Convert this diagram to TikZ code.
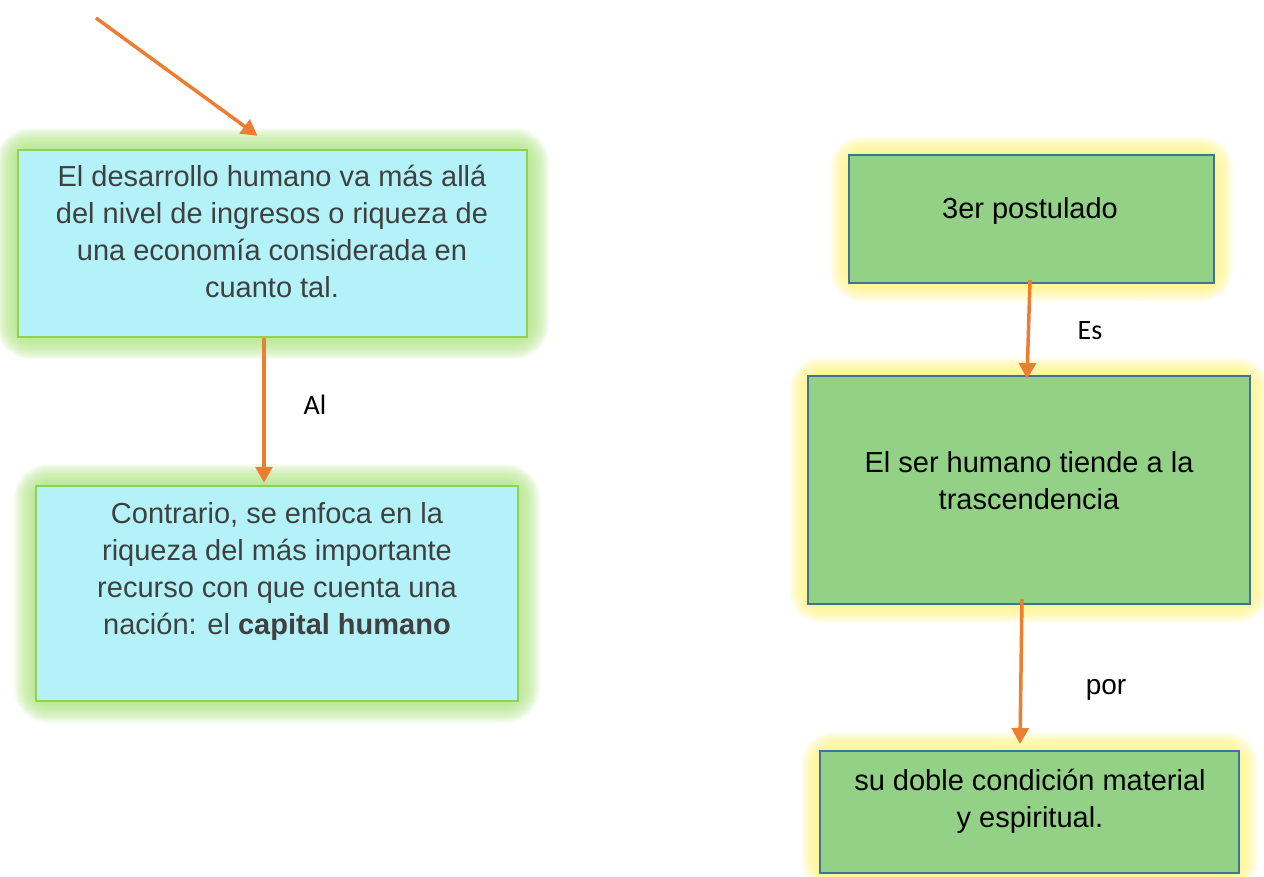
\documentclass[tikz,border=0pt]{standalone}
\usepackage{fontspec}
\setmainfont{Liberation Sans}
\newfontfamily\calfont{Carlito}
\usetikzlibrary{arrows.meta,backgrounds}
\definecolor{arrowor}{HTML}{ED7D31}
\definecolor{cyanfill}{HTML}{B2F2F8}
\definecolor{greenline}{HTML}{92D050}
\definecolor{greenglow}{HTML}{AEE482}
\definecolor{greenfill}{HTML}{93D186}
\definecolor{blueline}{HTML}{41719C}
\definecolor{yellowglow}{HTML}{FFF27A}
\definecolor{darktext}{HTML}{404040}
\tikzset{
  cyanbox/.style={draw=greenline, fill=cyanfill, line width=2.5pt, inner sep=0pt},
  greenbox/.style={draw=blueline, fill=greenfill, line width=2pt, inner sep=0pt},
  boxtext/.style={align=center, font=\fontsize{29}{37}\selectfont, inner sep=0pt},
  arr/.style={draw=arrowor, line width=3.5pt, -{Triangle[length=16pt,width=17pt]}},
  lbl/.style={font=\calfont\fontsize{28}{32}\selectfont, inner sep=0pt},
  glowg/.style={greenglow, opacity=0.075, rounded corners=14pt},
  glowy/.style={yellowglow, opacity=0.08, rounded corners=14pt},
}
\begin{document}
\begin{tikzpicture}[x=1pt,y=-1pt]
\useasboundingbox (0,0) rectangle (1264,876);
% boxes
\node[cyanbox, minimum width=509pt, minimum height=187pt] (b1) at (272.5,243.5) {};
\node[cyanbox, minimum width=482pt, minimum height=215pt] (b2) at (277,593.5) {};
\node[greenbox, minimum width=365pt, minimum height=128pt] (b3) at (1031.5,219) {};
\node[greenbox, minimum width=442pt, minimum height=228pt] (b4) at (1029,490) {};
\node[greenbox, minimum width=419pt, minimum height=122pt] (b5) at (1029.5,812) {};
% glows
\begin{pgfonlayer}{background}
\foreach \w in {2,4,...,42}{
  \draw[glowg, line width=\w pt] (b1.south west) rectangle (b1.north east);
  \draw[glowg, line width=\w pt] (b2.south west) rectangle (b2.north east);
}
\foreach \w in {2,4,...,36}{
  \draw[glowy, line width=\w pt] (b3.south west) rectangle (b3.north east);
  \draw[glowy, line width=\w pt] (b4.south west) rectangle (b4.north east);
  \draw[glowy, line width=\w pt] (b5.south west) rectangle (b5.north east);
}
\end{pgfonlayer}
% texts
\node[boxtext, text=darktext, anchor=north] (t1) at (272,165) {El desarrollo humano va más allá\\del nivel de ingresos o riqueza de\\una economía considerada en\\cuanto tal.};
\node[boxtext, text=darktext, anchor=north] (t2) at (277,502) {Contrario, se enfoca en la\\riqueza del más importante\\recurso con que cuenta una\\nación: el \textbf{capital humano}};
\node[boxtext, anchor=base] (t3) at (1030,218) {3er postulado};
\node[boxtext, anchor=north] (t4) at (1029,451) {El ser humano tiende a la\\trascendencia};
\node[boxtext, anchor=north] (t5) at (1030,769) {su doble condición material\\y espiritual.};
% labels
\node[lbl] (lal) at (315,405) {Al};
\node[fill=white, minimum width=84pt, minimum height=57pt, inner sep=0pt] (esbox) at (1099,329) {};
\node[lbl] (les) at (1090,331) {Es};
\node[font=\fontsize{28}{32}\selectfont, inner sep=0pt] (lpor) at (1106,690) {por};
% connectors
\coordinate (s0) at (96,18);
\draw[arr] (s0) -- ([xshift=-15pt,yshift=13pt]b1.north);
\draw[arr] ([xshift=-8.5pt]b1.south) -- ([xshift=-13pt,yshift=2pt]b2.north);
\draw[arr] ([xshift=-1.5pt,yshift=4pt]b3.south) -- ([xshift=-2pt,yshift=-4pt]b4.north);
\draw[arr] ([xshift=-7pt,yshift=6pt]b4.south) -- ([xshift=-9.5pt,yshift=6pt]b5.north);
\end{tikzpicture}
\end{document}
